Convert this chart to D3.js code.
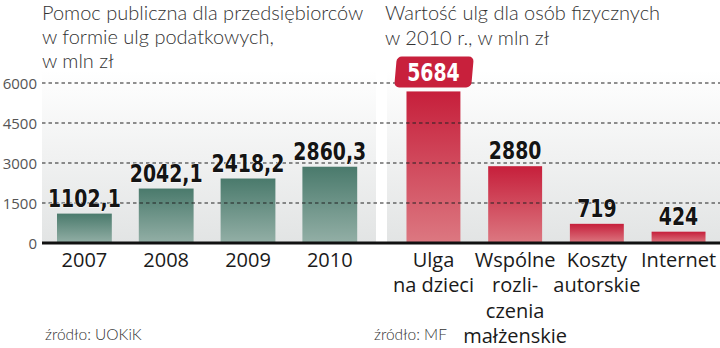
<!DOCTYPE html>
<html><head><meta charset="utf-8">
<script src="https://cdn.jsdelivr.net/npm/d3@7"></script>
<style>
html,body{margin:0;padding:0;background:#fff;}
svg{display:block;}
</style></head>
<body>
<svg id="chart" width="720" height="348"></svg>
<script>
const years = ["2007", "2008", "2009", "2010"];
const leftValues = [1102.1, 2042.1, 2418.2, 2860.3];
const rightCats = ["Ulga na dzieci", "Wspólne rozliczenia małżenskie", "Koszty autorskie", "Internet"];
const rightLabelLines = [["Ulga", "na dzieci"], ["Wspólne", "rozli-", "czenia", "małżenskie"], ["Koszty", "autorskie"], ["Internet"]];
const rightValues = [5684, 2880, 719, 424];
const yTicks = [0, 1500, 3000, 4500, 6000];
const leftTitle = ["Pomoc publiczna dla przedsiębiorców", "w formie ulg podatkowych,", "w mln zł"];
const rightTitle = ["Wartość ulg dla osób fizycznych", "w 2010 r., w mln zł"];
const leftSource = "źródło: UOKiK";
const rightSource = "źródło: MF";

const svg = d3.select("#chart");
const defs = svg.append("defs");
const bg = defs.append("linearGradient").attr("id","bg").attr("x1",0).attr("y1",0).attr("x2",0).attr("y2",1);
bg.append("stop").attr("offset","0%").attr("stop-color","#ffffff");
bg.append("stop").attr("offset","100%").attr("stop-color","#e2e4e4");
const gg = defs.append("linearGradient").attr("id","green").attr("x1",0).attr("y1",0).attr("x2",0).attr("y2",1);
gg.append("stop").attr("offset","0%").attr("stop-color","#4a7a6c");
gg.append("stop").attr("offset","100%").attr("stop-color","#93afa6");
const rg = defs.append("linearGradient").attr("id","red").attr("x1",0).attr("y1",0).attr("x2",0).attr("y2",1);
rg.append("stop").attr("offset","0%").attr("stop-color","#c61f3b");
rg.append("stop").attr("offset","100%").attr("stop-color","#dc7881");

const y = d3.scaleLinear().domain([0, 6000]).range([243, 83]);
const xL = d3.scaleBand().domain(years).range([43.5, 370.7]).paddingInner(0.33).paddingOuter(0.165);
const xR = d3.scaleBand().domain(rightCats).range([392.6, 719.4]).paddingInner(0.34).paddingOuter(0.17);

// panel backgrounds
svg.append("rect").attr("x",42).attr("y",70).attr("width",334).attr("height",y(0)-70).attr("fill","url(#bg)");
svg.append("rect").attr("x",387).attr("y",70).attr("width",333).attr("height",y(0)-70).attr("fill","url(#bg)");

// y axis
const yAxis = d3.axisLeft(y).tickValues(yTicks).tickSize(0).tickPadding(5).tickFormat(d3.format("d"));
const ga = svg.append("g").attr("transform","translate(42,0)").call(yAxis);
ga.select(".domain").remove();
ga.selectAll("text").attr("font-family","'Open Sans', sans-serif").attr("font-size",15).attr("fill","#555").attr("dy","0.35em");

// bars
svg.append("g").selectAll("rect").data(leftValues).join("rect")
  .attr("x",(d,i)=>xL(years[i])).attr("width",xL.bandwidth())
  .attr("y",d=>y(d)).attr("height",d=>y(0)-y(d)).attr("fill","url(#green)");
svg.append("g").selectAll("rect").data(rightValues).join("rect")
  .attr("x",(d,i)=>xR(rightCats[i])).attr("width",xR.bandwidth())
  .attr("y",d=>y(d)).attr("height",d=>y(0)-y(d)).attr("fill","url(#red)");

// grid
const gridG = svg.append("g");
gridG.selectAll("line").data(yTicks.filter(d=>d>0)).join("line")
  .attr("x1",42).attr("x2",720).attr("y1",d=>y(d)).attr("y2",d=>y(d))
  .attr("stroke","#222").attr("stroke-width",1.2).attr("stroke-dasharray","3.5,3");
svg.append("line").attr("x1",42).attr("x2",720).attr("y1",y(0)).attr("y2",y(0)).attr("stroke","#111").attr("stroke-width",3);

// value labels
const fmtL = d => d.toFixed(1).replace(".", ",");
const vfont = "'DejaVu Sans Condensed', 'DejaVu Sans', sans-serif";
svg.append("g").selectAll("text").data(leftValues).join("text")
  .attr("transform",(d,i)=>`translate(${xL(years[i])+xL.bandwidth()/2},${y(d)-7}) scale(0.84,1)`)
  .attr("text-anchor","middle").attr("font-family",vfont).attr("font-weight","bold").attr("font-size",25)
  .attr("fill","#141414").attr("stroke","#fff").attr("stroke-width",1).attr("paint-order","stroke")
  .text(fmtL);

const maxV = d3.max(rightValues);
rightValues.forEach((d,i)=>{
  const cx = xR(rightCats[i]) + xR.bandwidth()/2;
  if (d === maxV) {
    const by = y(d) - 10;
    svg.append("rect").attr("x",cx-38).attr("y",by-25).attr("width",77).attr("height",31).attr("rx",5)
      .attr("fill","#c8203c").attr("transform",`skewX(-5)`).attr("transform-origin",`${cx} ${by-9}`);
    svg.append("text").attr("transform",`translate(${cx},${by}) scale(0.84,1)`)
      .attr("text-anchor","middle").attr("font-family",vfont).attr("font-weight","bold").attr("font-size",25)
      .attr("fill","#fff").text(d);
  } else {
    svg.append("text").attr("transform",`translate(${cx},${y(d)-7}) scale(0.84,1)`)
      .attr("text-anchor","middle").attr("font-family",vfont).attr("font-weight","bold").attr("font-size",25)
      .attr("fill","#141414").attr("stroke","#fff").attr("stroke-width",1).attr("paint-order","stroke").text(d);
  }
});

// x labels
const xfont = "'Open Sans', sans-serif";
svg.append("g").selectAll("text").data(years).join("text")
  .attr("x",d=>xL(d)+xL.bandwidth()/2).attr("y",267).attr("text-anchor","middle")
  .attr("font-family",xfont).attr("font-size",20).attr("fill","#1a1a1a").text(d=>d);
rightLabelLines.forEach((lines,i)=>{
  const cx = xR(rightCats[i]) + xR.bandwidth()/2;
  const t = svg.append("text").attr("text-anchor","middle").attr("font-family",xfont).attr("font-size",20).attr("fill","#1a1a1a");
  lines.forEach((l,j)=> t.append("tspan").attr("x",cx).attr("y",267+j*25.3).text(l));
});

// titles
const tfont = "Lato, 'Open Sans', sans-serif";
const lt = svg.append("text").attr("font-family",tfont).attr("font-weight",300).attr("font-size",20).attr("fill","#333");
leftTitle.forEach((l,j)=> lt.append("tspan").attr("x",42).attr("y",20+j*24).text(l));
const rt = svg.append("text").attr("font-family",tfont).attr("font-weight",300).attr("font-size",20).attr("fill","#333");
rightTitle.forEach((l,j)=> rt.append("tspan").attr("x",385).attr("y",20+j*25).text(l));

// sources
svg.append("text").attr("x",45).attr("y",340).attr("font-family",tfont).attr("font-weight",300).attr("font-size",15.5).attr("fill","#333").text(leftSource);
svg.append("text").attr("x",374).attr("y",340).attr("font-family",tfont).attr("font-weight",300).attr("font-size",15.5).attr("fill","#333").text(rightSource);
</script>
</body></html>
